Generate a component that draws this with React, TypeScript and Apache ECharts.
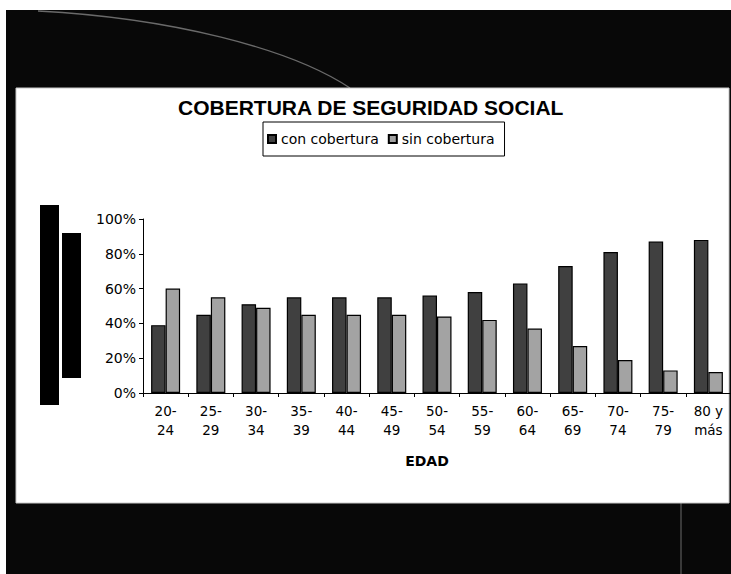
import React, { useEffect, useRef } from "react";
import * as echarts from "echarts";

const categories = ["20-\n24", "25-\n29", "30-\n34", "35-\n39", "40-\n44", "45-\n49", "50-\n54", "55-\n59", "60-\n64", "65-\n69", "70-\n74", "75-\n79", "80 y\nmás"];
const conCobertura = [39, 45, 51, 55, 55, 55, 56, 58, 63, 73, 81, 87, 88];
const sinCobertura = [60, 55, 49, 45, 45, 45, 44, 42, 37, 27, 19, 13, 12];
const seriesNames = ["con cobertura", "sin cobertura"];
const titleText = "COBERTURA DE SEGURIDAD SOCIAL";
const axisName = "EDAD";

export default function App() {
  const ref = useRef<HTMLDivElement>(null);
  useEffect(() => {
    if (!ref.current) return;
    const chart = echarts.init(ref.current, null, { renderer: "svg" });
    const labelFont = "DejaVu Sans";
    chart.setOption({
      animation: false,
      backgroundColor: "#ffffff",
      title: {
        text: titleText,
        left: 178,
        top: 97,
        padding: 0,
        textStyle: { fontFamily: "Liberation Sans", fontWeight: "bold", fontSize: 21, color: "#000" },
      },
      legend: {
        data: seriesNames,
        left: 263,
        top: 122,
        padding: [10, 10, 10, 4],
        itemGap: 9,
        itemWidth: 8,
        itemHeight: 8,
        icon: "rect",
        borderColor: "#000",
        borderWidth: 1,
        textStyle: { fontFamily: labelFont, fontSize: 14, color: "#000" },
      },
      graphic: [
        { type: "rect", z: -10, silent: true, shape: { x: 6, y: 10, width: 725, height: 564 }, style: { fill: "#080808" } },
        { type: "bezierCurve", z: -9, silent: true, shape: { x1: 38, y1: 11, cpx1: 170, cpy1: 18, cpx2: 290, cpy2: 48, x2: 350, y2: 88 }, style: { stroke: "#6a6a6a", lineWidth: 1.3, fill: null } },
        { type: "line", z: -9, silent: true, shape: { x1: 681, y1: 503, x2: 681, y2: 574 }, style: { stroke: "#4a4a4a", lineWidth: 1.5 } },
        { type: "rect", z: -8, silent: true, shape: { x: 16, y: 88, width: 713, height: 415 }, style: { fill: "#ffffff", stroke: "#c8c8c8", lineWidth: 1 } },
        { type: "rect", z: -7, silent: true, shape: { x: 40, y: 205, width: 19, height: 200 }, style: { fill: "#000" } },
        { type: "rect", z: -7, silent: true, shape: { x: 62, y: 233, width: 19, height: 145 }, style: { fill: "#000" } },
        {
          type: "text",
          z: 10,
          x: 427,
          y: 461,
          style: { text: axisName, font: 'bold 14px "DejaVu Sans"', fill: "#000", textAlign: "center", textVerticalAlign: "middle" },
        },
      ],
      grid: { left: 143, right: 0, top: 219, bottom: 181, containLabel: false },
      xAxis: {
        type: "category",
        data: categories,
        axisLine: { lineStyle: { color: "#000", width: 1 } },
        axisTick: { show: true, length: 4, lineStyle: { color: "#000" } },
        axisLabel: { margin: 8, lineHeight: 19, fontFamily: labelFont, fontSize: 13.5, color: "#000", interval: 0 },
      },
      yAxis: {
        type: "value",
        min: 0,
        max: 100,
        interval: 20,
        splitLine: { show: false },
        axisLine: { show: true, lineStyle: { color: "#000", width: 1 } },
        axisTick: { show: true, length: 4, lineStyle: { color: "#000" } },
        axisLabel: { formatter: "{value}%", margin: 7, fontFamily: labelFont, fontSize: 14, color: "#000" },
      },
      series: [
        {
          name: seriesNames[0],
          type: "bar",
          data: conCobertura,
          barWidth: 14.5,
          barGap: "0%",
          itemStyle: { color: "#404040", borderColor: "#000", borderWidth: 1.2 },
        },
        {
          name: seriesNames[1],
          type: "bar",
          data: sinCobertura,
          barWidth: 14.5,
          itemStyle: { color: "#a3a3a3", borderColor: "#000", borderWidth: 1.2 },
        },
      ],
    });
    return () => chart.dispose();
  }, []);
  return (
    <div
      ref={ref}
      style={{ position: "fixed", left: 0, top: 0, width: 731, height: 574, background: "#fff" }}
    />
  );
}
